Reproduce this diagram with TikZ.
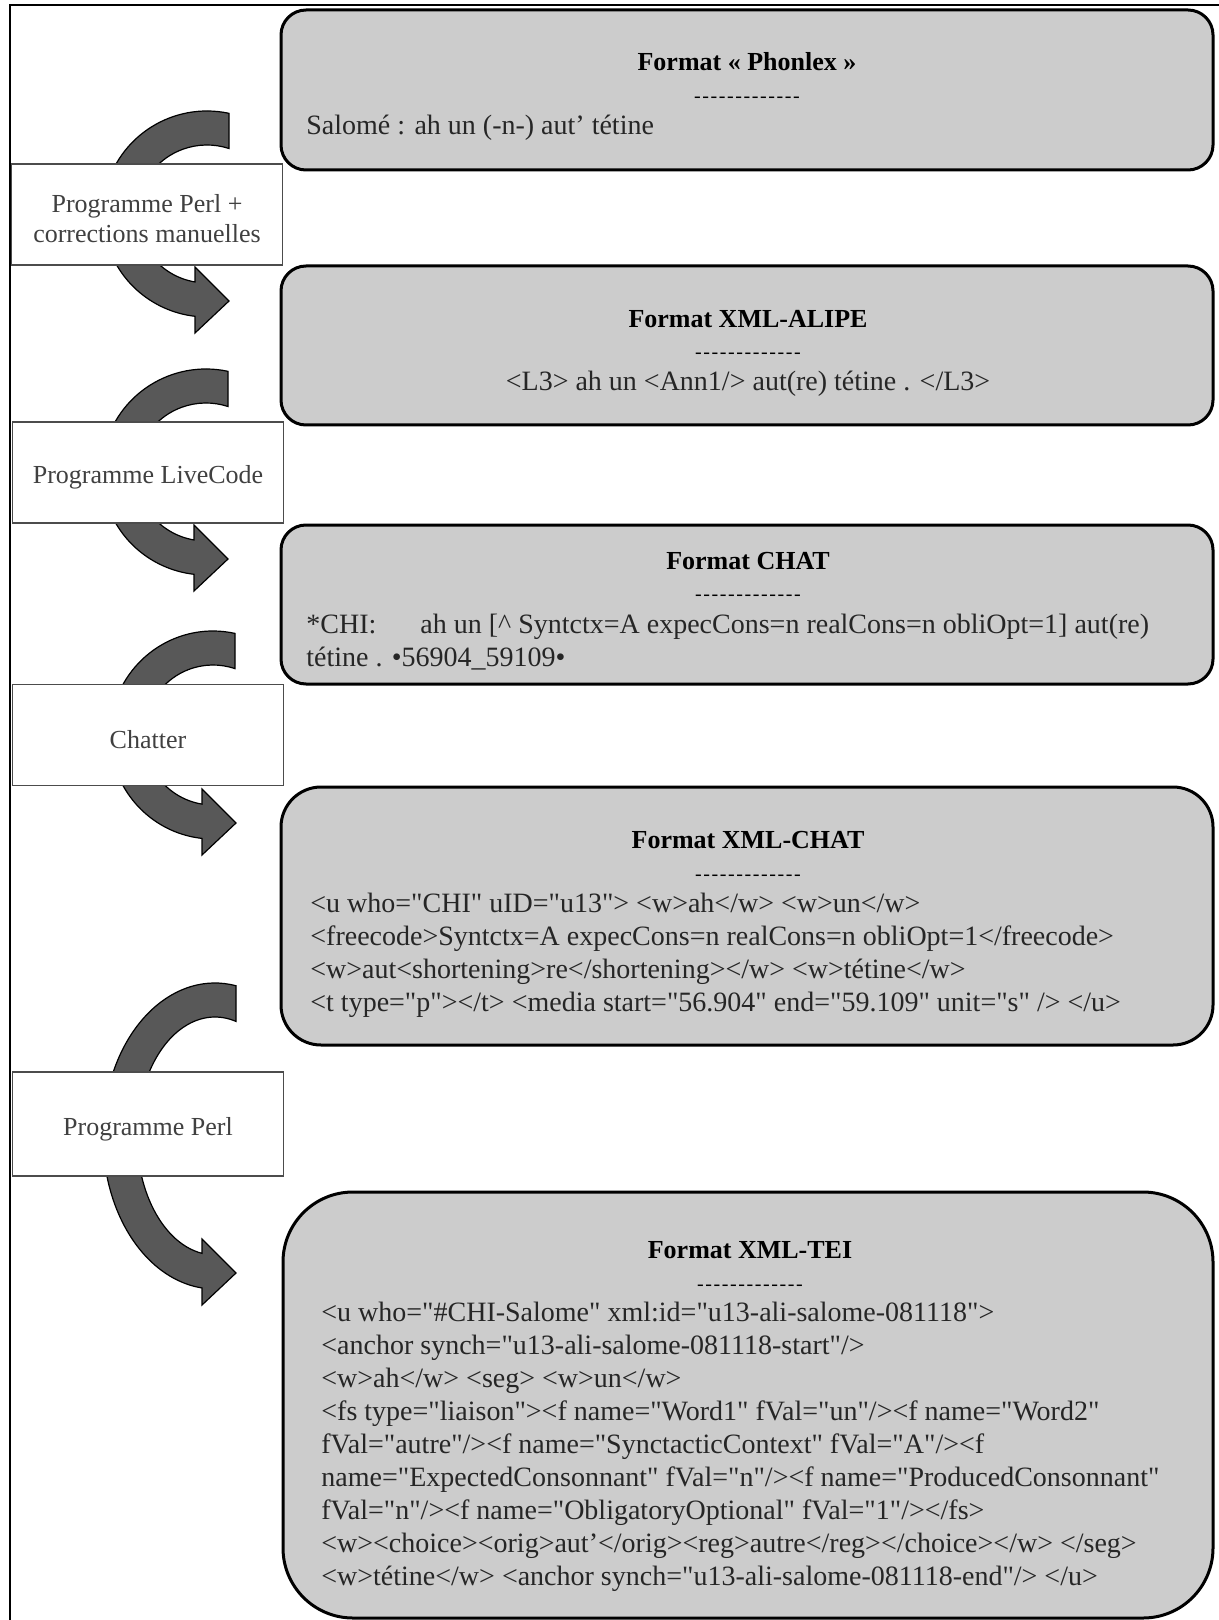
\documentclass[tikz,border=0pt]{standalone}
\usepackage{fontspec}
\setmainfont{Liberation Serif}
\newfontfamily\codefont{Liberation Serif}[Ligatures=TeXOff]
\definecolor{boxgray}{RGB}{204,204,204}
\definecolor{arrowgray}{RGB}{88,88,88}
\definecolor{labeltext}{RGB}{64,64,64}
\definecolor{codetext}{RGB}{38,38,38}
\newcommand{\sepdashes}{-\kern.8pt-\kern.8pt-\kern.8pt-\kern.8pt-\kern.8pt-\kern.8pt-\kern.8pt-\kern.8pt-\kern.8pt-\kern.8pt-\kern.8pt-\kern.8pt-}

\begin{document}
\begin{tikzpicture}[x=0.5pt, y=0.5pt,
    fmtbox/.style={draw=black, line width=1.5pt, fill=boxgray, minimum width=466pt, inner sep=0pt},
    stepbox/.style={draw=black!70, line width=0.8pt, fill=white, minimum width=135.5pt, minimum height=50.5pt, align=center, text=labeltext, font=\fontsize{13}{15}\selectfont, execute at begin node=\rule{0pt}{14pt}},
    bendarrow/.style={draw=black, line width=0.6pt, fill=arrowgray},
    title/.style={font=\fontsize{13}{15}\selectfont\bfseries, inner sep=0pt, anchor=mid, yshift=-3pt},
    dashline/.style={font=\fontsize{10}{12}\selectfont, inner sep=0pt, anchor=mid, yshift=-2.5pt},
    code/.style={font=\fontsize{14}{16.5}\selectfont\codefont, text=codetext, inner sep=0pt, anchor=mid west, yshift=-3pt}]
\useasboundingbox (0,0) rectangle (1219,-1620);
\draw[line width=1pt] (1219,-5) -- (10,-5) -- (10,-1620);

% curved arrows (centre, radii, top cut, head base)
\foreach \cx/\cy/\rx/\ry/\tx/\bx in {207/-214/87/86/22/-12, 206/-472/87/86/22/-12, 213/-735/86/87/22/-11, 215/-1136/95/136/21/-13}{
  \pgfmathsetmacro\rxo{\rx+17}
  \pgfmathsetmacro\ryo{\ry+17}
  \pgfmathsetmacro\rxi{\rx-17}
  \pgfmathsetmacro\ryi{\ry-17}
  \pgfmathsetmacro\ao{acos(\tx/\rxo)}
  \pgfmathsetmacro\ai{acos(\tx/\rxi)}
  \pgfmathsetmacro\bo{360-acos(\bx/\rxo)}
  \pgfmathsetmacro\bi{360-acos(\bx/\rxi)}
  \filldraw[bendarrow] ({\cx+\tx},{\cy+\ryo*sin(\ao)})
    arc[start angle=\ao, end angle=\bo, x radius=\rxo, y radius=\ryo]
    -- ({\cx+\bx},{\cy-\ry-33}) -- ({\cx+\bx+34},{\cy-\ry-1}) -- ({\cx+\bx},{\cy-\ry+33})
    -- ({\cx+\bx},{\cy+\ryi*sin(\bi)})
    arc[start angle=\bi, end angle=\ai, x radius=\rxi, y radius=\ryi] -- cycle;
}

% programs
\node[stepbox] (perlfix) at (147,-214.5) {\rule{0pt}{13pt}Programme Perl +\\corrections manuelles};
\node[stepbox] (livecode) at (148,-472.5) {Programme LiveCode};
\node[stepbox] (chatter) at (148,-735) {Chatter};
\node[stepbox, minimum height=52pt] (perltei) at (148,-1124) {Programme Perl};

% formats
\node[fmtbox, rounded corners=12.5pt, minimum height=80pt] (phonlex) at (747,-90) {};
\node[title] (phonlexT) at (747,-60) {Format « Phonlex »};
\node[dashline] (phonlexD) at (747,-93) {\sepdashes};
\node[code] (phonlex1) at (306,-124) {Salomé : ah un (-n-) aut’ tétine};

\node[fmtbox, rounded corners=12.5pt, minimum height=79.5pt] (alipe) at (747,-345.5) {};
\node[title] (alipeT) at (748,-317) {Format XML-ALIPE};
\node[dashline] (alipeD) at (748,-349) {\sepdashes};
\node[code, anchor=mid] (alipe1) at (748,-380) {<L3> ah un <Ann1/> aut(re) tétine . </L3>};

\node[fmtbox, rounded corners=12.5pt, minimum height=79.5pt] (chat) at (747,-604.5) {};
\node[title] (chatT) at (748,-559) {Format CHAT};
\node[dashline] (chatD) at (748,-591) {\sepdashes};
\node[code] (chat1) at (306,-623) {\makebox[57pt][l]{*CHI:}ah un [\textasciicircum{} Syntctx=A expecCons=n realCons=n obliOpt=1] aut(re)};
\node[code] (chat2) at (306,-656) {tétine . •56904\_59109•};

\node[fmtbox, rounded corners=20pt, minimum height=129pt] (xmlchat) at (747,-916) {};
\node[title] (xmlchatT) at (748,-838) {Format XML-CHAT};
\node[dashline] (xmlchatD) at (748,-871) {\sepdashes};
\foreach \ln [count=\k from 0] in {
  {<u who="CHI" uID="u13"> <w>ah</w> <w>un</w>},
  {<freecode>Syntctx=A expecCons=n realCons=n obliOpt=1</freecode>},
  {<w>aut<shortening>re</shortening></w> <w>tétine</w>},
  {<t type="p"></t> <media start="56.904" end="59.109" unit="s" /> </u>}}
  \node[code] (xmlchat\k) at (310,-902-33*\k) {\ln};

\node[fmtbox, rounded corners=35pt, minimum width=465pt, minimum height=213pt] (tei) at (748,-1405) {};
\node[title] (teiT) at (750,-1248) {Format XML-TEI};
\node[dashline] (teiD) at (750,-1281) {\sepdashes};
\foreach \ln [count=\k from 0] in {
  {<u who="\#CHI-Salome" xml:id="u13-ali-salome-081118">},
  {<anchor synch="u13-ali-salome-081118-start"/>},
  {<w>ah</w> <seg> <w>un</w>},
  {<fs type="liaison"><f name="Word1" fVal="un"/><f name="Word2"},
  {fVal="autre"/><f name="SynctacticContext" fVal="A"/><f},
  {name="ExpectedConsonnant" fVal="n"/><f name="ProducedConsonnant"},
  {fVal="n"/><f name="ObligatoryOptional" fVal="1"/></fs>},
  {<w><choice><orig>aut’</orig><reg>autre</reg></choice></w> </seg>},
  {<w>tétine</w> <anchor synch="u13-ali-salome-081118-end"/> </u>}}
  \node[code] (tei\k) at (321,-1311-33*\k) {\ln};
\end{tikzpicture}
\end{document}
